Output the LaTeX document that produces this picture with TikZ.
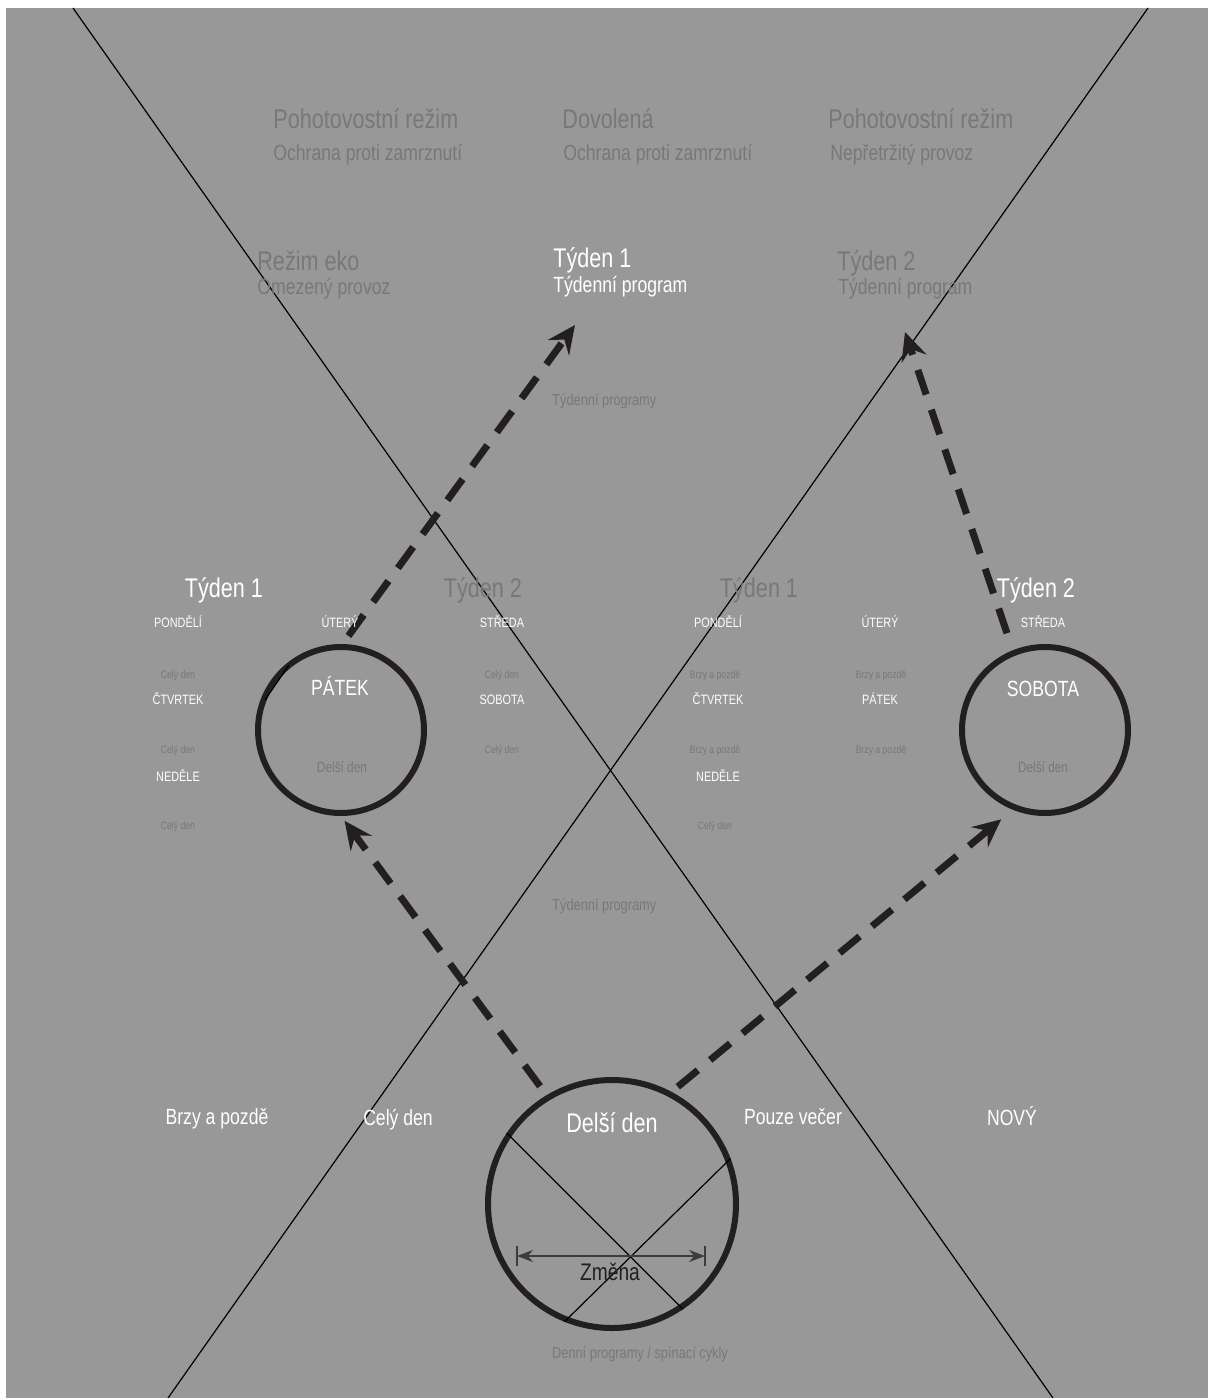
\documentclass[tikz,border=0pt]{standalone}
\usepackage{fontspec}
\setmainfont{Liberation Sans}[FakeStretch=0.8]
\usetikzlibrary{positioning,arrows.meta,calc}
\definecolor{paper}{HTML}{989898}
\definecolor{faint}{HTML}{787878}
\definecolor{ink}{HTML}{231F20}
\definecolor{dimline}{HTML}{3C3C3C}
\tikzset{
  txt/.style={inner sep=0pt,anchor=base},
  ltxt/.style={inner sep=0pt,anchor=base west},
  hd/.style={font=\fontsize{13.5pt}{16pt}\selectfont},
  sb/.style={font=\fontsize{11pt}{13pt}\selectfont},
  md/.style={font=\fontsize{8pt}{10pt}\selectfont},
  dy/.style={font=\fontsize{6.8pt}{8pt}\selectfont},
  tn/.style={font=\fontsize{5.4pt}{6.5pt}\selectfont},
  wt/.style={text=white},
  dm/.style={text=faint},
  ring/.style={circle,draw=ink,line width=3pt,inner sep=0pt},
  flow/.style={-{Stealth[length=14pt,width=13pt,inset=5pt]},line width=3.5pt,draw=ink,dash pattern=on 13pt off 8pt},
  thin/.style={draw=black,line width=0.6pt},
  dimarr/.style={{Stealth[length=8pt,width=6pt]}-{Stealth[length=8pt,width=6pt]},draw=dimline,line width=0.8pt},
}
\begin{document}
\begin{tikzpicture}[x=0.5pt,y=-0.5pt]
  \useasboundingbox (0,0) rectangle (1208,1398);
  \fill[white] (0,0) rectangle (1208,1398);
  \fill[paper] (6,8) rectangle (1208,1398);
  \draw[thin] (73,8) -- (1053,1398); \draw[thin] (1148,8) -- (168,1398);

  \node[ring,minimum size=83pt] (patek) at (341,730) {};
  \node[ring,minimum size=83pt] (sobota) at (1045,730) {};
  \node[ring,minimum size=124pt] (delsi) at (612,1204) {};
  \draw[thin] (265,700) -- (289,665);
  \draw[thin] (delsi.146) -- (delsi.304); \draw[thin] (delsi.21) -- (delsi.248);

  \coordinate (dl) at (517,1256); \coordinate (dr) at (705,1256);
  \draw[dimarr] (dl) -- (dr);
  \draw[draw=dimline,line width=0.6pt] ([yshift=5pt]dl) -- ([yshift=-5pt]dl); \draw[draw=dimline,line width=0.6pt] ([yshift=5pt]dr) -- ([yshift=-5pt]dr);
  \node[txt,font=\fontsize{12pt}{14pt}\selectfont,text=ink] (zmena) at (610,1280) {Změna};

  \coordinate (t1) at (575,325); \coordinate (t2) at (905,332);
  \draw[flow,shorten <=5.5pt,shorten >=3pt] (delsi.121) -- (patek.270);
  \draw[flow,shorten <=4pt,shorten >=7.5pt] (delsi.62) -- (sobota.248);
  \draw[flow,shorten <=5pt] (patek.89) -- (t1);
  \draw[flow,shorten <=9pt] (sobota.112) -- (t2);

  \node[ltxt,hd,dm] (stby1) at (273,128) {Pohotovostní režim};
  \node[ltxt,sb,dm] (frost1) at (273,160) {Ochrana proti zamrznutí};
  \node[ltxt,hd,dm] (vac) at (562,128) {Dovolená};
  \node[ltxt,sb,dm] (frost2) at (563,160) {Ochrana proti zamrznutí};
  \node[ltxt,hd,dm] (stby2) at (828,128) {Pohotovostní režim};
  \node[ltxt,sb,dm] (cont) at (830,160) {Nepřetržitý provoz};
  \node[ltxt,hd,dm] (eco) at (257,270) {Režim eko};
  \node[ltxt,sb,dm] (ecosub) at (257,294) {Omezený provoz};
  \node[ltxt,hd,wt] (wkA) at (553,267) {Týden 1};
  \node[ltxt,sb,wt] (wkAsub) at (553,292) {Týdenní program};
  \node[ltxt,hd,dm] (wkB) at (837,270) {Týden 2};
  \node[ltxt,sb,dm] (wkBsub) at (838,294) {Týdenní program};
  \node[ltxt,md,dm] (progA) at (552,405) {Týdenní programy};
  \node[ltxt,md,dm] (progB) at (552,910) {Týdenní programy};

  \node[txt,hd,wt] (l1) at (224,597) {Týden 1};
  \node[txt,hd,dm] (l2) at (483,597) {Týden 2};
  \node[txt,hd,dm] (r1) at (759,597) {Týden 1};
  \node[txt,hd,wt] (r2) at (1036,597) {Týden 2};

  \node[txt,dy,wt] (lmo) at (178,627) {PONDĚLÍ};
  \node[txt,dy,wt] (ltu) at (340,627) {ÚTERÝ};
  \node[txt,dy,wt] (lwe) at (502,627) {STŘEDA};
  \node[txt,tn,dm] (lmon) at (178,678) {Celý den};
  \node[txt,tn,dm] (lwen) at (502,678) {Celý den};
  \node[txt,dy,wt] (lth) at (178,704) {ČTVRTEK};
  \node[txt,sb,wt] (lfr) at (340,695) {PÁTEK};
  \node[txt,dy,wt] (lsa) at (502,704) {SOBOTA};
  \node[txt,tn,dm] (lthn) at (178,753) {Celý den};
  \node[txt,tn,dm] (lsan) at (502,753) {Celý den};
  \node[txt,dy,wt] (lsu) at (178,781) {NEDĚLE};
  \node[txt,font=\fontsize{7.4pt}{9pt}\selectfont,dm] (lfrn) at (342,772) {Delší den};
  \node[txt,tn,dm] (lsun) at (178,829) {Celý den};

  \node[txt,dy,wt] (rmo) at (718,627) {PONDĚLÍ};
  \node[txt,dy,wt] (rtu) at (880,627) {ÚTERÝ};
  \node[txt,dy,wt] (rwe) at (1043,627) {STŘEDA};
  \node[txt,tn,dm] (rmon) at (715,678) {Brzy a pozdě};
  \node[txt,tn,dm] (rtun) at (881,678) {Brzy a pozdě};
  \node[txt,dy,wt] (rth) at (718,704) {ČTVRTEK};
  \node[txt,dy,wt] (rfr) at (880,704) {PÁTEK};
  \node[txt,sb,wt] (rsa) at (1043,696) {SOBOTA};
  \node[txt,tn,dm] (rthn) at (715,753) {Brzy a pozdě};
  \node[txt,tn,dm] (rfrn) at (881,753) {Brzy a pozdě};
  \node[txt,dy,wt] (rsu) at (718,781) {NEDĚLE};
  \node[txt,font=\fontsize{7.4pt}{9pt}\selectfont,dm] (rsan) at (1043,772) {Delší den};
  \node[txt,tn,dm] (rsun) at (715,829) {Celý den};

  \node[txt,sb,wt] (early) at (217,1124) {Brzy a pozdě};
  \node[txt,sb,wt] (allday) at (398,1125) {Celý den};
  \node[txt,hd,wt] (longday) at (612,1132) {Delší den};
  \node[txt,sb,wt] (evening) at (793,1124) {Pouze večer};
  \node[txt,sb,wt] (new) at (1012,1125) {NOVÝ};
  \node[txt,md,dm] (daily) at (640,1358) {Denní programy / spínací cykly};
\end{tikzpicture}
\end{document}
